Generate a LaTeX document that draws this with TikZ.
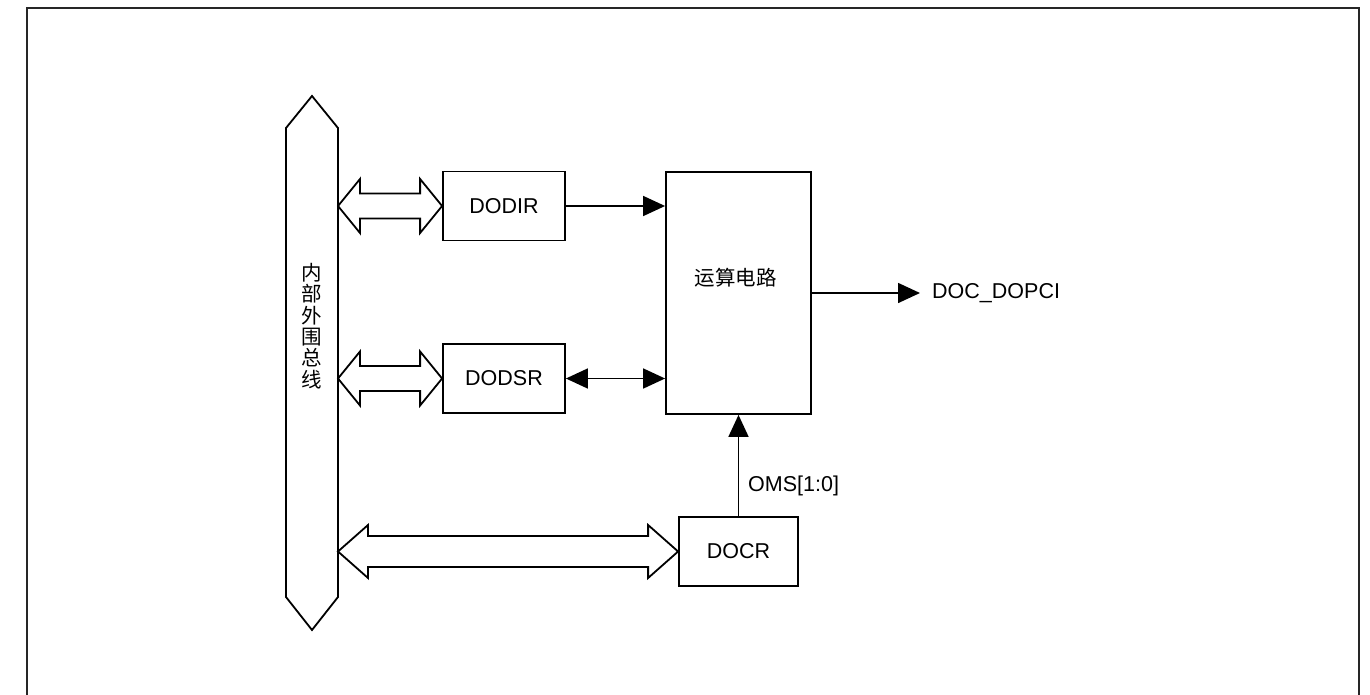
\documentclass[tikz,border=0pt]{standalone}
\usepackage{fontspec}
\setmainfont{Liberation Sans}
\newfontfamily\cjk{Noto Sans CJK SC}
\usetikzlibrary{arrows.meta,calc}
\tikzset{
  blk/.style={draw, line width=1.8pt, fill=white, inner sep=0pt, font=\fontsize{21.5}{25}\selectfont},
  fat/.style={draw, line width=1.8pt, line join=miter, fill=white},
  sig/.style={line width=1.6pt, -{Triangle[length=22pt,width=20pt]}},
  bisig/.style={line width=1.6pt, {Triangle[length=22pt,width=20pt]}-{Triangle[length=22pt,width=20pt]}},
  lbl/.style={inner sep=0pt, font=\fontsize{21.5}{25}\selectfont},
  frame/.style={draw=black!85, line width=1.6pt}
}
\newcommand\fatdblarrow[5]{%
  \draw[fat] (#1) -- ($(#1)+(#3,-#4)$) -- ($(#1)+(#3,-#5)$) -- ($(#2)+(-#3,-#5)$)
    -- ($(#2)+(-#3,-#4)$) -- (#2) -- ($(#2)+(-#3,#4)$) -- ($(#2)+(-#3,#5)$)
    -- ($(#1)+(#3,#5)$) -- ($(#1)+(#3,#4)$) -- cycle;}
\begin{document}
\begin{tikzpicture}[x=1pt,y=-1pt]
\useasboundingbox (0,0) rectangle (1370,695);
\fill[white] (0,0) rectangle (1370,695);
% outer frame (bottom edge outside the picture)
\draw[frame] (27,720) -- (27,8) -- (1359,8) -- (1359,720);

% bus
\coordinate (busNW) at (286,128);
\coordinate (busTop) at (312,96);
\coordinate (busNE) at (338,128);
\coordinate (busSE) at (338,597);
\coordinate (busBot) at (312,630);
\coordinate (busSW) at (286,597);
\draw[fat] (busNW) -- (busTop) -- (busNE) -- (busSE) -- (busBot) -- (busSW) -- cycle;
\node (buslabel) at (312,326) [inner sep=0pt, align=center,
  font=\cjk\fontsize{20.5}{21.3}\selectfont] {内\\部\\外\\围\\总\\线};

% blocks
\node (dodir) at (504,206) [blk, minimum width=122pt, minimum height=69pt] {DODIR};
\node (dodsr) at (504,378.5) [blk, minimum width=122pt, minimum height=69pt] {DODSR};
\node (calc) at (738.5,293) [blk, minimum width=145pt, minimum height=242pt] {};
\node (calclabel) at (calc.center) [lbl, yshift=15pt, xshift=-3pt, font=\cjk\fontsize{20.5}{25}\selectfont] {运算电路};
\node (docr) at (738.5,551.5) [blk, minimum width=119pt, minimum height=69pt] {DOCR};

% bus connections
\coordinate (busA) at (busNE |- dodir.west);
\coordinate (busB) at (busNE |- dodsr.west);
\coordinate (busC) at (busNE |- docr.west);
\fatdblarrow{busA}{dodir.west}{22}{27}{12.5}
\fatdblarrow{busB}{dodsr.west}{22}{27}{12.5}
\fatdblarrow{busC}{docr.west}{30}{26.5}{15.5}

% signals
\draw[sig] (dodir.east) -- (dodir.east -| calc.west);
\draw[bisig] (dodsr.east) -- (dodsr.east -| calc.west);
\node (out) at (932,293) [lbl, anchor=west] {DOC\_DOPCI};
\draw[sig] (calc.east) -- ([xshift=-12pt]out.west);
\draw[sig] (docr.north) -- (calc.south);
\node (oms) at (748,486) [lbl, anchor=west] {OMS[1:0]};
\end{tikzpicture}
\end{document}
